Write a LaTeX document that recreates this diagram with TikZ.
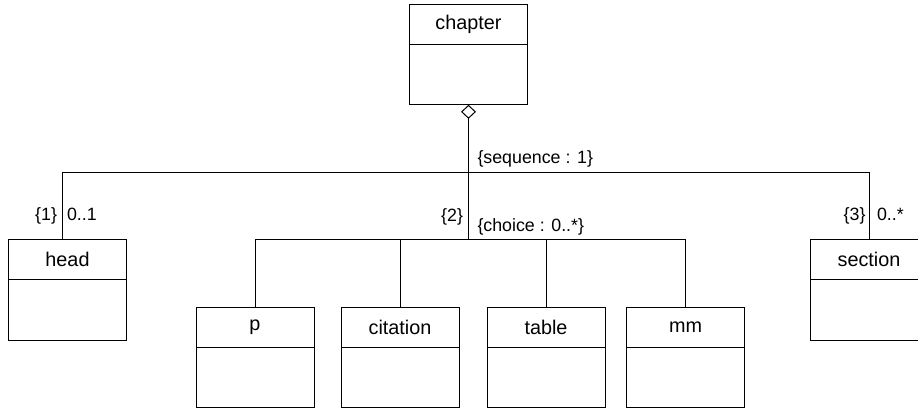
\documentclass[tikz,border=0pt]{standalone}
\usepackage{fontspec}
\setmainfont{Liberation Sans}
\usetikzlibrary{positioning, arrows.meta}

\begin{document}
\begin{tikzpicture}[x=1pt, y=-1pt, line width=1pt,
cls/.style={draw, minimum width=118, minimum height=40, inner sep=0, outer sep=0, font=\fontsize{19.8}{22}\selectfont},
clsbody/.style={draw, minimum width=118, minimum height=60.5, inner sep=0, outer sep=0},
lbl/.style={inner sep=0, font=\fontsize{17.8}{20}\selectfont}]
\useasboundingbox (0,0) rectangle (918,409);

\node[cls] (chapter) at (468.5,24.3) {chapter};
\node[clsbody, below=0pt of chapter] (chapterbody) {};

\node[cls] (head) at (67.5,259.5) {head};
\node[clsbody, below=0pt of head] (headbody) {};
\node[cls] (section) at (869,259.5) {section};
\node[clsbody, below=0pt of section] (sectionbody) {};

\node[cls] (p) at (255,327.3) {p};
\node[clsbody, below=0pt of p] (pbody) {};
\node[cls] (citation) at (400,327.3) {citation};
\node[clsbody, below=0pt of citation] (citationbody) {};
\node[cls] (table) at (546,327.3) {table};
\node[clsbody, below=0pt of table] (tablebody) {};
\node[cls] (mm) at (685.5,327.3) {mm};
\node[clsbody, below=0pt of mm] (mmbody) {};

\coordinate (seq) at (468.5,172.7);
\coordinate (choice) at (468.5,239.3);

\draw[{Diamond[open,length=14pt,width=15pt]}-] (chapterbody.south) -- (choice);
\draw ([xshift=-5]head.north) |- (seq) -| (section.north);
\draw (p.north) |- (choice) -| (mm.north);
\draw (citation.north) -- (citation.north |- choice);
\draw (table.north) -- (table.north |- choice);

\node[lbl, anchor=base west] (seqlbl) at (477,163.3) {\{sequence : 1\}};
\node[lbl, anchor=base west] (choicelbl) at (477,231.5) {\{choice : 0..*\}};
\node[lbl, anchor=base east] (idx2) at (463.5,221.5) {\{2\}};
\node[lbl, anchor=base east] (idx1) at (57.5,220) {\{1\}};
\node[lbl, anchor=base west] (mult1) at (66.5,220) {0..1};
\node[lbl, anchor=base east] (idx3) at (866,220) {\{3\}};
\node[lbl, anchor=base west] (mult3) at (876.5,220) {0..*};

\end{tikzpicture}
\end{document}
